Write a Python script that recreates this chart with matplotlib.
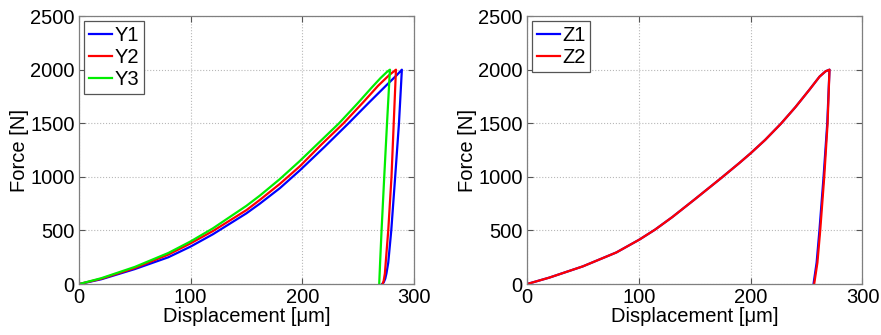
import matplotlib
matplotlib.use("Agg")
import matplotlib.pyplot as plt

# ---- data ----
# Left panel: Y1, Y2, Y3 (loading followed by unloading)
y1_x = [0, 20, 50, 80, 100, 120, 150, 162, 180, 198, 220, 241.5, 260, 275, 285, 289.3,
        286.7, 283.3, 279.8, 277.1, 275.5, 274.4, 273, 271.5]
y1_f = [0, 45, 140, 250, 350, 465, 660, 750, 895, 1062, 1280, 1500, 1695, 1850, 1952, 2000,
        1500, 1000, 500, 200, 100, 50, 15, 0]

y2_x = [0, 20, 50, 80, 100, 120, 150, 162, 180, 198, 217, 237, 255, 268, 278, 284,
        282, 280, 277.1, 275.2, 274.1, 273, 272]
y2_f = [0, 50, 150, 275, 380, 495, 690, 785, 935, 1100, 1300, 1500, 1700, 1850, 1950, 2000,
        1500, 1000, 500, 250, 100, 30, 0]

y3_x = [0, 20, 50, 80, 100, 120, 150, 162, 180, 197.4, 215, 233, 250, 262, 270, 276, 278.6,
        276, 273.5, 271.1, 269.8, 269]
y3_f = [0, 55, 160, 290, 398, 520, 730, 825, 980, 1144, 1320, 1500, 1690, 1830, 1920, 1980, 2000,
        1500, 1000, 500, 200, 0]

# Right panel: Z1, Z2
z1_x = [0, 20, 50, 80, 100.6, 114.6, 130, 150, 173.8, 190, 200, 213, 227, 240, 252.7, 261.6, 267, 270.5,
        268.5, 265.2, 261.5, 259, 256.2]
z1_f = [0, 60, 165, 295, 415, 508, 625, 790, 990, 1130, 1220, 1345, 1495, 1650, 1815, 1935, 1985, 2000,
        1500, 1000, 500, 200, 0]

z2_x = [0, 20, 50, 80, 100.6, 114.6, 130, 150, 173.8, 190, 200, 213, 227, 240, 252.7, 261.6, 267, 270.5,
        268.8, 265.8, 262.2, 259.7, 256.8]
z2_f = [0, 60, 165, 295, 415, 508, 625, 790, 990, 1130, 1220, 1345, 1495, 1650, 1815, 1935, 1985, 2000,
        1500, 1000, 500, 200, 0]

x_ticks = [0, 100, 200, 300]
y_ticks = [0, 500, 1000, 1500, 2000, 2500]
x_label = "Displacement [\u03bcm]"
y_label = "Force [N]"

BLUE = "#0000FF"
RED = "#FF0000"
GREEN = "#00EE00"

plt.rcParams['font.family'] = ['Liberation Sans', 'DejaVu Sans']
FS = 14.5

fig = plt.figure(figsize=(8.81, 3.35), dpi=100)
ax1 = fig.add_axes([0.0897, 0.152, 0.380, 0.800])
ax2 = fig.add_axes([0.598, 0.152, 0.381, 0.800])


def style(ax):
    ax.set_xlim(0, 300)
    ax.set_ylim(0, 2500)
    ax.set_xticks(x_ticks)
    ax.set_yticks(y_ticks)
    ax.grid(True, linestyle=':', color='#b8b8b8', linewidth=0.8)
    ax.set_axisbelow(True)
    ax.tick_params(direction='in', length=4, width=0.8, top=True, right=True,
                   labelsize=FS, colors='#555555', labelcolor='black')
    ax.tick_params(axis='x', pad=3)
    ax.tick_params(axis='y', pad=3)
    for s in ax.spines.values():
        s.set_color('#7f7f7f')
        s.set_linewidth(0.9)
    ax.set_xlabel(x_label, fontsize=FS, labelpad=0)
    ax.set_ylabel(y_label, fontsize=FS, labelpad=1)


lw = 1.6
ax1.plot(y1_x, y1_f, color=BLUE, lw=lw, label='Y1')
ax1.plot(y2_x, y2_f, color=RED, lw=lw, label='Y2')
ax1.plot(y3_x, y3_f, color=GREEN, lw=lw, label='Y3')
style(ax1)

ax2.plot(z1_x, z1_f, color=BLUE, lw=lw, label='Z1')
ax2.plot(z2_x, z2_f, color=RED, lw=lw, label='Z2')
style(ax2)

for ax in (ax1, ax2):
    leg = ax.legend(loc='upper left', fontsize=FS, fancybox=False, framealpha=1,
                    edgecolor='#555555', handlelength=1.15, handletextpad=0.1,
                    labelspacing=0.15, borderpad=0.25, borderaxespad=0.25)
    leg.get_frame().set_linewidth(0.9)

fig.savefig("out.png", dpi=100)
